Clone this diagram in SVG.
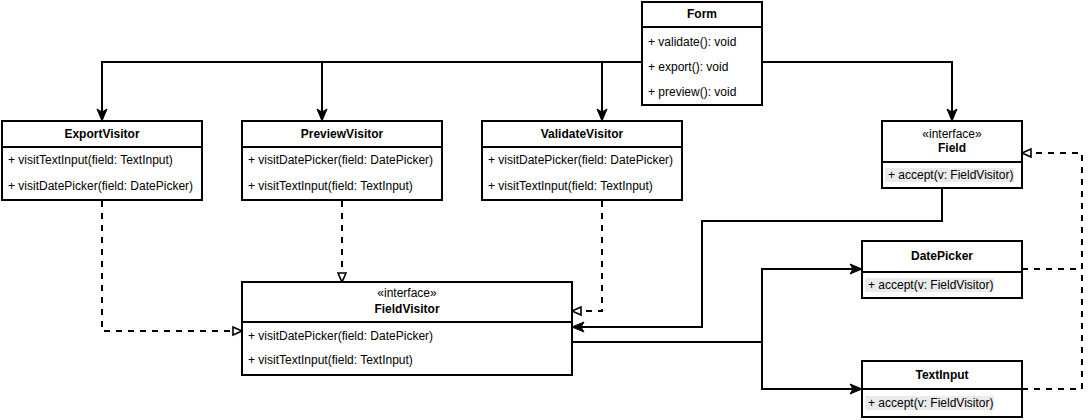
<svg xmlns="http://www.w3.org/2000/svg" width="1090" height="420" viewBox="0 0 1090 420">
<style>
  .box{fill:#fff;stroke:#000;stroke-width:2}
  .div{stroke:#000;stroke-width:2}
  .t{font-family:"Liberation Sans",Helvetica,Arial,sans-serif;font-size:12px;fill:#000}
  .b{font-weight:bold;text-anchor:middle}
  .c{text-anchor:middle}
  .hl{fill:#ebebeb}
  .e{fill:none;stroke:#000;stroke-width:2}
  .d{stroke-dasharray:6 6}
  .a{marker-end:url(#arr)}
  .o{marker-end:url(#tri)}
</style>
<defs>
  <marker id="arr" markerUnits="userSpaceOnUse" markerWidth="14" markerHeight="12" refX="6" refY="5" orient="auto" overflow="visible">
    <path d="M0,0 L12,5 L0,10 L3,5 Z" fill="#000" stroke="#000" stroke-width="1" stroke-dasharray="none"/>
  </marker>
  <marker id="tri" markerUnits="userSpaceOnUse" markerWidth="12" markerHeight="12" refX="1" refY="5" orient="auto" overflow="visible">
    <path d="M1,1 L10,5 L1,9 Z" fill="#fff" stroke="#000" stroke-width="1.6" stroke-dasharray="none"/>
  </marker>
</defs>

<g id="connectors">
  <path class="e a" d="M642,62 H102 V115"/>
  <path class="e a" d="M642,62 H322 V115"/>
  <path class="e a" d="M642,62 H602 V115"/>
  <path class="e a" d="M762,62 H952 V115"/>
  <path class="e d o" d="M102,201 V331 H233"/>
  <path class="e d o" d="M342,201 V273"/>
  <path class="e d o" d="M602,201 V311 H581"/>
  <path class="e a" d="M942,189 V221 H702 V327 H578"/>
  <path class="e a" d="M572,342 H762 V269 H856"/>
  <path class="e a" d="M762,342 V389 H856"/>
  <path class="e d o" d="M1022,269 H1082 V153 H1031"/>
  <path class="e d" d="M1022,389 H1082 V153"/>
</g>

<g id="Form">
  <rect class="box" x="642" y="2" width="120" height="103"/>
  <line class="div" x1="642" y1="27" x2="762" y2="27"/>
  <text class="t b" x="702" y="18">Form</text>
  <text class="t" x="648" y="46">+ validate(): void</text>
  <text class="t" x="648" y="71">+ export(): void</text>
  <text class="t" x="648" y="96">+ preview(): void</text>
</g>

<g id="ExportVisitor">
  <rect class="box" x="2" y="121" width="200" height="79"/>
  <line class="div" x1="2" y1="147" x2="202" y2="147"/>
  <text class="t b" x="102" y="138">ExportVisitor</text>
  <text class="t" x="8" y="164">+ visitTextInput(field: TextInput)</text>
  <text class="t" x="8" y="190">+ visitDatePicker(field: DatePicker)</text>
</g>

<g id="PreviewVisitor">
  <rect class="box" x="242" y="121" width="200" height="79"/>
  <line class="div" x1="242" y1="147" x2="442" y2="147"/>
  <text class="t b" x="342" y="138">PreviewVisitor</text>
  <text class="t" x="248" y="164">+ visitDatePicker(field: DatePicker)</text>
  <text class="t" x="248" y="190">+ visitTextInput(field: TextInput)</text>
</g>

<g id="ValidateVisitor">
  <rect class="box" x="482" y="121" width="200" height="79"/>
  <line class="div" x1="482" y1="147" x2="682" y2="147"/>
  <text class="t b" x="582" y="138">ValidateVisitor</text>
  <text class="t" x="488" y="164">+ visitDatePicker(field: DatePicker)</text>
  <text class="t" x="488" y="190">+ visitTextInput(field: TextInput)</text>
</g>

<g id="Field">
  <rect class="box" x="882" y="121" width="140" height="67"/>
  <line class="div" x1="882" y1="162" x2="1022" y2="162"/>
  <text class="t c" x="952" y="138">«interface»</text>
  <text class="t b" x="952" y="152">Field</text>
  <rect class="hl" x="885" y="168" width="129" height="14"/>
  <text class="t" x="888" y="179">+ accept(v: FieldVisitor)</text>
</g>

<g id="DatePicker">
  <rect class="box" x="862" y="241" width="160" height="57"/>
  <line class="div" x1="862" y1="272" x2="1022" y2="272"/>
  <text class="t b" x="942" y="260">DatePicker</text>
  <rect class="hl" x="865" y="278" width="129" height="14"/>
  <text class="t" x="868" y="289">+ accept(v: FieldVisitor)</text>
</g>

<g id="TextInput">
  <rect class="box" x="862" y="361" width="160" height="56"/>
  <line class="div" x1="862" y1="389" x2="1022" y2="389"/>
  <text class="t b" x="942" y="379">TextInput</text>
  <rect class="hl" x="865" y="396" width="129" height="14"/>
  <text class="t" x="868" y="407">+ accept(v: FieldVisitor)</text>
</g>

<g id="FieldVisitor">
  <rect class="box" x="242" y="282" width="330" height="93"/>
  <line class="div" x1="242" y1="322" x2="572" y2="322"/>
  <text class="t c" x="407" y="297">«interface»</text>
  <text class="t b" x="407" y="313">FieldVisitor</text>
  <text class="t" x="248" y="340">+ visitDatePicker(field: DatePicker)</text>
  <text class="t" x="248" y="364">+ visitTextInput(field: TextInput)</text>
</g>
</svg>
